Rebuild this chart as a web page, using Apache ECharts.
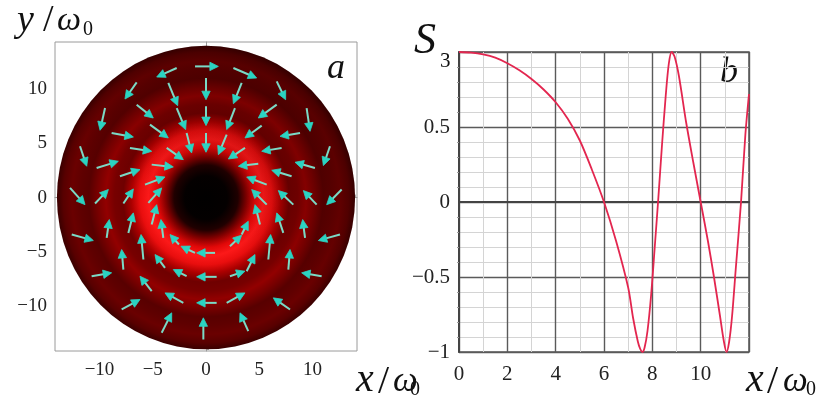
<!DOCTYPE html>
<html>
<head>
<meta charset="utf-8">
<script src="https://cdn.jsdelivr.net/npm/echarts@6/dist/echarts.min.js"></script>
<style>
  html, body { margin: 0; padding: 0; background: #ffffff; }
  #chart { width: 821px; height: 400px; }
</style>
</head>
<body>
<div id="chart"></div>
<script>
// ---- Panel a: beam cross-section ----
// Disk of the beam (centre and radius in units of w0)
const diskCenter = [0, 0];
const diskRadius = 14;
// Radial intensity profile: radius (w0) and relative level (0..1)
const ringRadius = [0, 2.0, 3.0, 3.8, 4.6, 5.4, 6.2, 7.0, 7.8, 8.6, 9.4, 10.2, 11.0, 11.8, 12.6, 13.4, 14.0];
const ringLevel  = [0, 0.01, 0.12, 0.5, 0.85, 0.95, 0.88, 0.65, 0.42, 0.45, 0.55, 0.45, 0.33, 0.36, 0.4, 0.33, 0.22];
// Field arrows: [x tail, y tail, x head, y head]
const arrowVectors = [
  [-2.75, 11.95, -4.63, 11.12], [-1.03, 12.1, 1.16, 12.1], [2.57, 11.95, 4.76, 11.03],
  [-6.51, 10.63, -7.61, 9.09], [-3.54, 10.57, -2.66, 8.48], [0, 11.03, 0, 9.03],
  [3.35, 10.57, 2.57, 8.66], [6.64, 10.72, 7.48, 9.03],
  [-9.48, 8.26, -9.95, 6.21], [-6.51, 8.57, -4.95, 7.34], [-2.75, 8.26, -1.91, 6.27],
  [0, 8.42, 0, 6.64], [2.72, 8.26, 1.94, 6.27], [6.64, 8.57, 4.91, 7.34], [9.45, 8.26, 9.77, 6.11],
  [-8.86, 5.96, -6.82, 5.59], [-5.26, 6.73, -3.54, 5.5], [-1.82, 5.96, -1.35, 4.12],
  [0, 5.96, 0, 4.18], [1.94, 5.81, 1.16, 3.96], [5.23, 6.64, 3.66, 5.5], [8.83, 5.96, 6.95, 5.65],
  [-11.83, 4.73, -11.2, 2.89], [-7.14, 4.58, -5.1, 4.27], [-5.1, 3.04, -3.07, 2.83],
  [-3.69, 4.58, -2.13, 3.5], [-10.27, 2.73, -8.23, 3.35], [-8.08, 1.97, -6.2, 2.58],
  [-5.73, 1.2, -3.85, 1.9], [11.64, 4.73, 11.02, 2.95], [7.1, 4.58, 5.23, 4.27],
  [3.66, 4.58, 2.1, 3.56], [4.91, 3.13, 3.04, 2.89], [10.23, 2.73, 8.36, 3.26],
  [8.04, 1.97, 6.17, 2.52], [5.7, 1.2, 3.82, 1.9],
  [-12.77, 0.89, -11.36, -0.65], [-10.42, -0.55, -9.17, 0.74], [-7.76, -0.55, -6.82, 0.8],
  [-5.41, -0.49, -4.16, 0.89], [12.74, 0.74, 11.33, -0.65], [10.39, -0.65, 9.14, 0.65],
  [8.2, -0.65, 6.79, 0.65], [5.7, -0.65, 4.29, 0.74],
  [-12.61, -3.41, -10.58, -3.96], [-9.33, -3.72, -9.08, -2.03], [-7.29, -3.26, -6.82, -1.41],
  [-5.1, -2.49, -4.63, -0.65], [12.58, -3.41, 10.55, -3.96], [9.3, -3.72, 9.08, -2.03],
  [7.26, -3.26, 6.64, -1.41], [5.07, -2.49, 4.6, -0.65],
  [-10.74, -7.25, -8.86, -6.94], [-7.76, -6.64, -7.92, -4.79], [-5.88, -5.71, -6.1, -3.41],
  [10.86, -7.25, 8.98, -6.94], [7.73, -6.64, 7.89, -4.79], [5.85, -5.71, 6.07, -3.41],
  [-4.01, -3.72, -4.23, -2.03], [-2.54, -4.33, -3.38, -3.41], [-1.03, -5.1, -2.35, -4.49],
  [0.85, -5.1, -0.88, -5.1], [2.25, -4.49, 3.35, -3.47], [3.35, -3.41, 3.97, -2.18],
  [-3.85, -6.48, -4.79, -5.25], [-1.82, -7.25, -3.07, -6.64], [1.0, -7.31, -0.88, -7.31],
  [3.82, -6.79, 4.6, -5.25], [2.25, -7.25, 3.66, -6.79],
  [-5.1, -8.63, -6.2, -7.25], [-2.13, -9.71, -3.85, -8.79], [1.0, -9.71, -0.88, -9.71],
  [1.94, -9.71, 3.66, -8.79], [7.89, -10.32, 6.32, -9.25], [-7.92, -10.32, -6.2, -9.4],
  [-4.16, -12.47, -3.22, -10.63], [-0.25, -13.09, -0.25, -11.09], [3.97, -12.32, 3.19, -10.63]
];
// Axis labels and ticks of panel a
const aLabelValues = [-10, -5, 0, 5, 10];
const aTickValues = [-14, -13, -12, -11, -10, -9, -8, -7, -6, -5, -4, -3, -2, -1, 0,
  1, 2, 3, 4, 5, 6, 7, 8, 9, 10, 11, 12, 13, 14];

// ---- Panel b: S3 along x ----
const s3X = [0, 0.5, 1, 1.5, 2, 2.5, 3, 3.5, 4, 4.5, 5, 5.5, 6, 6.5, 7, 7.2, 7.4, 7.5, 7.59,
  7.68, 7.8, 7.95, 8.1, 8.25, 8.4, 8.55, 8.68, 8.8, 8.92, 9.1, 9.4, 9.7, 10.0, 10.3, 10.55,
  10.8, 10.95, 11.07, 11.18, 11.3, 11.45, 11.67, 11.85, 12.0];
const s3Y = [1.0, 0.996, 0.984, 0.962, 0.925, 0.878, 0.82, 0.75, 0.665, 0.555, 0.41, 0.215, 0.0,
  -0.26, -0.57, -0.77, -0.93, -0.98, -1.0, -0.97, -0.86, -0.62, -0.3, 0.03, 0.38, 0.7, 0.92,
  1.0, 0.97, 0.84, 0.53, 0.26, 0.0, -0.26, -0.5, -0.76, -0.92, -1.0, -0.93, -0.76, -0.45,
  0.0, 0.45, 0.72];

const SERIF = '"Liberation Serif", "DejaVu Serif", serif';

function fmtMinus(v) {
  return v < 0 ? '\u2212' + Math.abs(v) : String(v);
}

// Level -> colour ramp: black through deep red to bright red
function shade(level) {
  const r = Math.round(255 * Math.min(1, level * 1.04));
  const gb = Math.round(Math.max(0, level - 0.8) * 170);
  return 'rgb(' + r + ',' + gb + ',' + gb + ')';
}

function renderDisk(params, api) {
  const c = api.coord([api.value(0), api.value(1)]);
  const s = api.size([api.value(2), api.value(2)]);
  const rx = s[0], ry = s[1];
  const R = api.value(2);
  const stops = ringRadius.map((r, i) => ({ offset: r / R, color: shade(ringLevel[i]) }));
  return {
    type: 'group',
    children: [
      {
        type: 'circle',
        shape: { cx: c[0], cy: c[1], r: rx },
        scaleY: ry / rx, originX: c[0], originY: c[1],
        style: { fill: { type: 'radial', x: 0.5, y: 0.5, r: 0.5, colorStops: stops } }
      },
      {
        type: 'circle',
        shape: { cx: c[0], cy: c[1], r: rx },
        scaleY: ry / rx, originX: c[0], originY: c[1],
        style: {
          fill: {
            type: 'linear', x: 0.8, y: 0.0, x2: 0.25, y2: 1.0,
            colorStops: [
              { offset: 0, color: 'rgba(25,0,0,0.28)' },
              { offset: 0.6, color: 'rgba(25,0,0,0)' }
            ]
          }
        }
      }
    ]
  };
}

function renderArrow(params, api) {
  const p0 = api.coord([api.value(0), api.value(1)]);
  const p1 = api.coord([api.value(2), api.value(3)]);
  const dx = p1[0] - p0[0], dy = p1[1] - p0[1];
  const len = Math.hypot(dx, dy) || 1;
  const ux = dx / len, uy = dy / len;
  const hl = 8.5, hw = 4.2;
  const bx = p1[0] - ux * hl, by = p1[1] - uy * hl;
  return {
    type: 'group',
    children: [
      { type: 'line', shape: { x1: p0[0], y1: p0[1], x2: bx + ux * 1.5, y2: by + uy * 1.5 },
        style: { stroke: '#7bdac6', lineWidth: 2 } },
      { type: 'polygon',
        shape: { points: [[p1[0], p1[1]], [bx - uy * hw, by + ux * hw], [bx + uy * hw, by - ux * hw]] },
        style: { fill: '#2bd3c2', stroke: '#2bd3c2', lineWidth: 0.8, lineJoin: 'round' } }
    ]
  };
}

const chart = echarts.init(document.getElementById('chart'), null, { renderer: 'canvas' });

const labelA = { fontFamily: SERIF, fontSize: 19, color: '#222' };
const labelB = { fontFamily: SERIF, fontSize: 21, color: '#222' };

function txt(x, y, text, size, italic, align) {
  return {
    type: 'text', x: x, y: y, silent: true,
    style: {
      text: text, fill: '#111',
      font: (italic ? 'italic ' : '') + size + 'px ' + SERIF,
      textAlign: align || 'left', textVerticalAlign: 'bottom'
    }
  };
}

chart.setOption({
  animation: false,
  backgroundColor: '#ffffff',
  grid: [
    { left: 55, top: 42, width: 302, height: 309, show: true, borderColor: '#9a9a9a', borderWidth: 1 },
    { left: 459, top: 52, width: 290, height: 300, show: true, borderColor: '#555', borderWidth: 1.5 }
  ],
  xAxis: [
    {
      type: 'value', gridIndex: 0, min: -14.18, max: 14.18,
      axisLine: { show: true, lineStyle: { color: '#9a9a9a' } },
      axisTick: { show: true, inside: true, length: 3, customValues: aTickValues, lineStyle: { color: '#aaa' } },
      axisLabel: { customValues: aLabelValues, formatter: fmtMinus, margin: 10, ...labelA },
      splitLine: { show: false }
    },
    {
      type: 'value', gridIndex: 1, min: 0, max: 12, interval: 2,
      axisLine: { show: true, lineStyle: { color: '#444', width: 2 } },
      axisTick: { show: false },
      minorTick: { show: false, splitNumber: 2 },
      axisLabel: { margin: 12, formatter: v => (v === 12 ? '' : String(v)), ...labelB },
      splitLine: { show: true, lineStyle: { color: '#5a5a5a', width: 1.4 } },
      minorSplitLine: { show: true, lineStyle: { color: '#d4d4d4', width: 1 } }
    }
  ],
  yAxis: [
    {
      type: 'value', gridIndex: 0, min: -14.15, max: 14.35,
      axisLine: { show: true, lineStyle: { color: '#9a9a9a' } },
      axisTick: { show: true, inside: true, length: 3, customValues: aTickValues, lineStyle: { color: '#aaa' } },
      axisLabel: { customValues: aLabelValues, formatter: fmtMinus, margin: 8, ...labelA },
      splitLine: { show: false }
    },
    {
      type: 'value', gridIndex: 1, min: -1, max: 1, interval: 0.5,
      axisLine: { show: true, lineStyle: { color: '#444', width: 2 } },
      axisTick: { show: false },
      minorTick: { show: true, splitNumber: 5, length: 2, lineStyle: { color: '#999' } },
      axisLabel: { margin: 9, formatter: v => (v === 1 ? '' : fmtMinus(v)), ...labelB },
      splitLine: { show: true, lineStyle: { color: '#5a5a5a', width: 1.4 } },
      minorSplitLine: { show: true, lineStyle: { color: '#d4d4d4', width: 1 } }
    }
  ],
  series: [
    {
      type: 'custom', xAxisIndex: 0, yAxisIndex: 0, renderItem: renderDisk,
      encode: { x: 0, y: 1 }, clip: true,
      data: [[diskCenter[0], diskCenter[1], diskRadius]], z: 1
    },
    {
      type: 'custom', xAxisIndex: 0, yAxisIndex: 0, renderItem: renderArrow,
      encode: { x: [0, 2], y: [1, 3] }, clip: true,
      data: arrowVectors, z: 2
    },
    {
      type: 'line', xAxisIndex: 1, yAxisIndex: 1,
      data: s3X.map((x, i) => [x, s3Y[i]]),
      showSymbol: false, smooth: 0.3, clip: true,
      lineStyle: { color: '#e3264f', width: 1.8 }, z: 5
    }
  ],
  graphic: [
    // y / w0 (panel a, vertical axis)
    txt(17, 40, 'y', 38, true), txt(43, 40, '/', 38, false), txt(57, 38, '\u03c9', 34, true), txt(83, 40, '0', 20, false),
    // x / w0 (panel a, horizontal axis)
    txt(356, 400, 'x', 40, true), txt(378, 402, '/', 40, false), txt(393, 399, '\u03c9', 35, true), txt(410, 400, '0', 20, false),
    // x / w0 (panel b)
    txt(746, 400, 'x', 40, true), txt(767, 402, '/', 40, false), txt(783, 399, '\u03c9', 35, true), txt(806, 400, '0', 20, false),
    // S3 (panel b, vertical axis)
    txt(414, 63, 'S', 44, true), txt(440, 72, '3', 21, false),
    // panel letters
    txt(327, 87, 'a', 36, true), txt(720, 91, 'b', 36, true)
  ]
});
</script>
</body>
</html>
